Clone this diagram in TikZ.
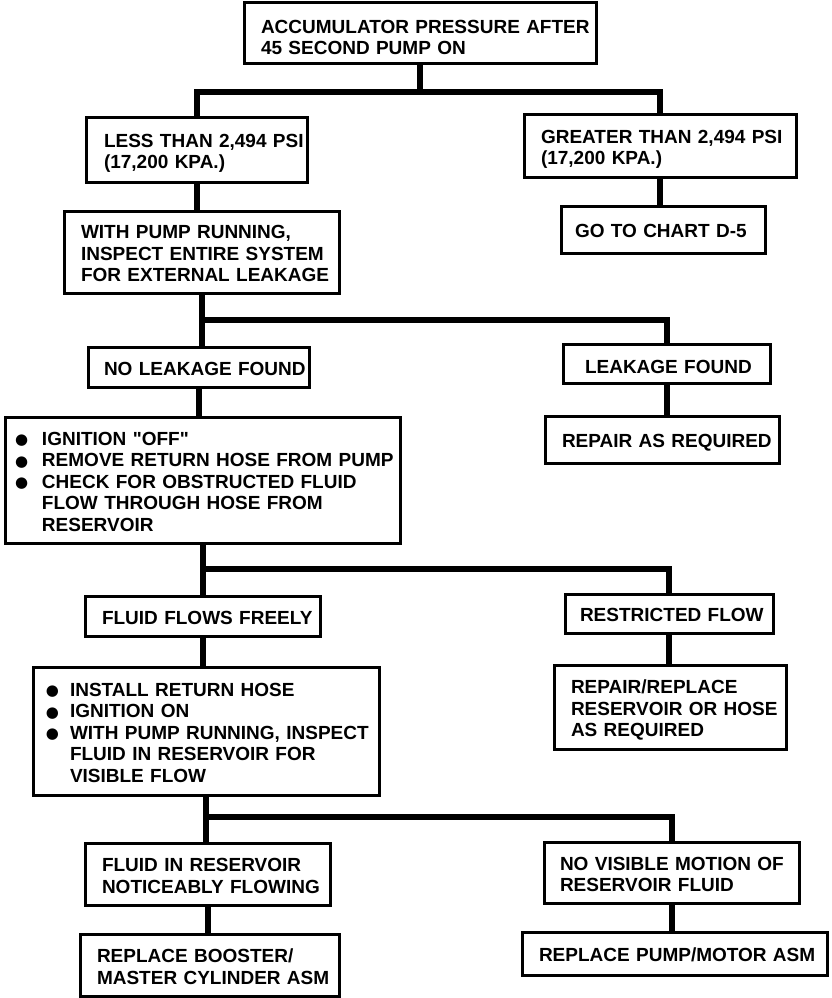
\documentclass[tikz,border=0pt]{standalone}
\usepackage{fontspec}
\setmainfont{Liberation Sans}
\newfontfamily\dejavu{DejaVu Sans}
\newcommand\bt[2]{\begin{tabular}{@{\hspace*{#1pt}}l@{}}\rule{0pt}{23pt}#2\end{tabular}}
\newcommand\bl[2]{\begin{tabular}{@{\hspace*{#1pt}}l@{}l@{}}\rule{0pt}{23pt}#2\end{tabular}}
\newcommand\bul[1]{\makebox[#1pt][l]{\dejavu\fontsize{15}{21.5}\selectfont\raisebox{0.5pt}{●}}}
\begin{document}
\begin{tikzpicture}[x=1pt,y=-1pt,
  box/.style={draw, line width=3pt, inner sep=0pt, outer sep=0pt, anchor=north west,
    align=left, font=\bfseries\fontsize{19}{21.5}\selectfont},
  conn/.style={line width=6pt, line join=miter}]
\path[fill=white] (0,0) rectangle (832,998);
\useasboundingbox (0,0) rectangle (832,998);

\node[box, text width=352pt, minimum height=61pt] (top) at (244,3)
  {\bt{17}{\rule{0pt}{27pt}ACCUMULATOR PRESSURE AFTER\\45 SECOND PUMP ON}};
\node[box, text width=221pt, minimum height=65pt] (less) at (86,117)
  {\bt{18}{LESS THAN 2,494 PSI\\(17,200 KPA.)}};
\node[box, text width=272pt, minimum height=63pt] (greater) at (524,114)
  {\bt{17}{GREATER THAN 2,494 PSI\\(17,200 KPA.)}};
\node[box, text width=275pt, minimum height=82pt] (with) at (64,211)
  {\bt{17}{WITH PUMP RUNNING,\\INSPECT ENTIRE SYSTEM\\FOR EXTERNAL LEAKAGE}};
\node[box, text width=204pt, minimum height=47pt] (goto) at (561,206)
  {\bt{14}{GO TO CHART D-5}};
\node[box, text width=221pt, minimum height=40pt] (noleak) at (88,347)
  {\bt{16}{NO LEAKAGE FOUND}};
\node[box, text width=207pt, minimum height=39pt] (leak) at (563,344)
  {\bt{22}{\rule{0pt}{27pt}LEAKAGE FOUND}};
\node[box, text width=234pt, minimum height=47pt] (repair) at (545,416)
  {\bt{17}{REPAIR AS REQUIRED}};
\node[box, text width=395pt, minimum height=126pt] (ign) at (5,417)
  {\bl{10}{%
    \bul{27} & IGNITION \textquotedbl OFF\textquotedbl\\
    \bul{27} & REMOVE RETURN HOSE FROM PUMP\\
    \bul{27} & CHECK FOR OBSTRUCTED FLUID\\
             & FLOW THROUGH HOSE FROM\\
             & RESERVOIR}};
\node[box, text width=235pt, minimum height=40pt] (flows) at (85,596)
  {\bt{17}{FLUID FLOWS FREELY}};
\node[box, text width=208pt, minimum height=39pt] (restricted) at (565,594)
  {\bt{15}{RESTRICTED FLOW}};
\node[box, text width=232pt, minimum height=84pt] (replrep) at (554,665)
  {\bt{17}{REPAIR/REPLACE\\RESERVOIR OR HOSE\\AS REQUIRED}};
\node[box, text width=346pt, minimum height=128pt] (install) at (33,667)
  {\bl{13}{%
    \bul{24} & INSTALL RETURN HOSE\\
    \bul{24} & IGNITION ON\\
    \bul{24} & WITH PUMP RUNNING, INSPECT\\
             & FLUID IN RESERVOIR FOR\\
             & VISIBLE FLOW}};
\node[box, text width=245pt, minimum height=62pt] (fluidin) at (85,843)
  {\bt{17}{FLUID IN RESERVOIR\\NOTICEABLY FLOWING}};
\node[box, text width=255pt, minimum height=61pt] (novis) at (544,842)
  {\bt{16}{NO VISIBLE MOTION OF\\RESERVOIR FLUID}};
\node[box, text width=259pt, minimum height=62pt] (booster) at (80,934)
  {\bt{17}{REPLACE BOOSTER/\\MASTER CYLINDER ASM}};
\node[box, text width=305pt, minimum height=43pt] (pump) at (522,932)
  {\bt{17}{REPLACE PUMP/MOTOR ASM}};

\coordinate (b1) at (420,92);
\coordinate (b2) at (200,320);
\coordinate (b3) at (203,569);
\coordinate (b4) at (208,817);

\draw[conn] (top.south) -- (top.south |- b1);
\draw[conn] (less.north) |- (greater.north |- b1) -- (greater.north);
\draw[conn] (less.south) -- (less.south |- with.north);
\draw[conn] (greater.south) -- (greater.south |- goto.north);

\draw[conn] (with.south) -- (with.south |- noleak.north);
\draw[conn] (with.south |- b2) -| (leak.north);
\draw[conn] (noleak.south) -- (noleak.south |- ign.north);
\draw[conn] (leak.south) -- (leak.south |- repair.north);

\draw[conn] (ign.south) -- (ign.south |- flows.north);
\draw[conn] (ign.south |- b3) -| (restricted.north);
\draw[conn] (flows.south) -- (flows.south |- install.north);
\draw[conn] (restricted.south) -- (restricted.south |- replrep.north);

\draw[conn] (install.south) -- (install.south |- fluidin.north);
\draw[conn] (install.south |- b4) -| (novis.north);
\draw[conn] (fluidin.south) -- (fluidin.south |- booster.north);
\draw[conn] (novis.south) -- (novis.south |- pump.north);
\end{tikzpicture}
\end{document}
